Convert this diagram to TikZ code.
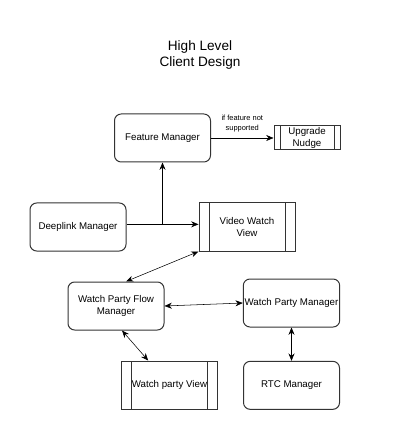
\documentclass[tikz,border=0pt]{standalone}
\usepackage{fontspec}
\setmainfont{Liberation Sans}
\usetikzlibrary{positioning}
\usetikzlibrary{arrows.meta}
\begin{document}
\begin{tikzpicture}[
x=0.75pt, y=-0.75pt,
>={Stealth[length=5.5pt,width=4.5pt]},
roundednode/.style={rectangle, draw=black!80, rounded corners=5pt, line width=0.75pt, minimum width=72pt, minimum height=36pt, inner sep=1pt, align=center, font=\fontsize{7.3}{8.8}\selectfont},
processnode/.style={rectangle, draw=black!80, line width=0.75pt, minimum width=72pt, minimum height=36pt, inner sep=1pt, align=center, font=\fontsize{7.3}{8.8}\selectfont,
    path picture={
        \draw[black!80, line width=0.75pt] ([xshift=#1]path picture bounding box.south west) -- ([xshift=#1]path picture bounding box.north west);
        \draw[black!80, line width=0.75pt] ([xshift=-#1]path picture bounding box.south east) -- ([xshift=-#1]path picture bounding box.north east);
    }},
processnode/.default=7.5pt,
titlenode/.style={align=center, font=\fontsize{10.2}{12}\selectfont},
smalllabel/.style={align=center, font=\fontsize{5.6}{7.8}\selectfont},
]
\useasboundingbox (0,0) rectangle (400,448);
%Nodes
\node[titlenode] (title) at (200,55) {High Level\\Client Design};
\node[roundednode] (featuremanager) at (162.5,138) {Feature Manager};
\node[processnode=4.5pt, minimum width=49.5pt, minimum height=18pt] (upgradenudge) at (307,138) {Upgrade\\Nudge};
\node[roundednode] (deeplinkmanager) at (78,227) {Deeplink Manager};
\node[processnode] (videowatchview) [right= 54pt of deeplinkmanager] {Video Watch\\View};
\node[roundednode] (flowmanager) at (116,306) {Watch Party Flow\\Manager};
\node[roundednode] (partymanager) at (291.5,303) {Watch Party Manager};
\node[roundednode] (rtcmanager) [below= 25pt of partymanager] {RTC Manager};
\node[processnode] (partyview) at (169.5,385) {Watch party View};

%Lines
\draw[->] (featuremanager.east) -- node[smalllabel, above=1pt] {if feature not\\supported} (upgradenudge.west);
\draw[->] ([yshift=2pt]deeplinkmanager.east) -- ([yshift=2pt]videowatchview.west);
\draw[->] ([yshift=2pt]deeplinkmanager.east -| featuremanager.south) -- (featuremanager.south);
\draw[<->] (videowatchview.south west) -- ([xshift=7.5pt]flowmanager.north);
\draw[<->] (flowmanager.east) -- (partymanager.west);
\draw[<->] (partymanager.south) -- (rtcmanager.north);
\draw[<->] ([xshift=4.5pt]flowmanager.south) -- ([xshift=-16pt]partyview.north);

\end{tikzpicture}
\end{document}
